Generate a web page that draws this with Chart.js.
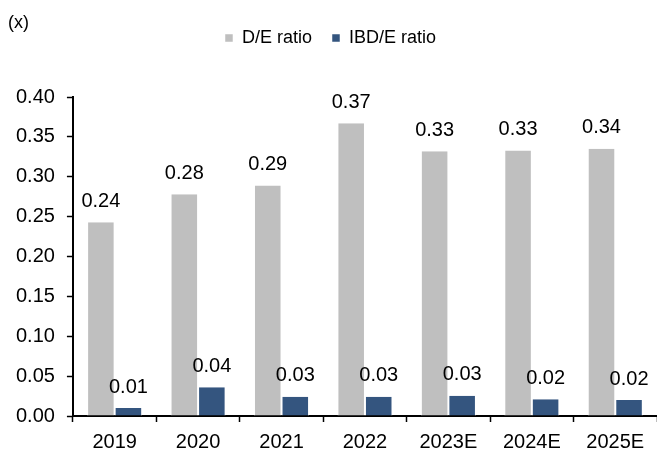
<!DOCTYPE html>
<html>
<head>
<meta charset="utf-8">
<script src="https://cdn.jsdelivr.net/npm/chart.js@4"></script>
<style>
	html, body { margin: 0; padding: 0; background: #fff; }
	#wrap { width: 657px; height: 452px; }
</style>
</head>
<body>
<div id="wrap"><canvas id="chart" width="657" height="452"></canvas></div>
<script>
const years = ['2019', '2020', '2021', '2022', '2023E', '2024E', '2025E'];
const deRatio = [0.243, 0.278, 0.289, 0.367, 0.332, 0.333, 0.335];
const ibdRatio = [0.010, 0.036, 0.024, 0.024, 0.0255, 0.021, 0.020];
const deLabels = ['0.24', '0.28', '0.29', '0.37', '0.33', '0.33', '0.34'];
const ibdLabels = ['0.01', '0.04', '0.03', '0.03', '0.03', '0.02', '0.02'];

const FONT = 'Arial, "Liberation Sans", sans-serif';

// draws the value above each bar
const barLabels = {
	id: 'barLabels',
	afterDatasetsDraw(chart) {
		const ctx = chart.ctx;
		const texts = [deLabels, ibdLabels];
		ctx.save();
		ctx.font = '20px ' + FONT;
		ctx.fillStyle = '#000';
		ctx.textAlign = 'center';
		ctx.textBaseline = 'bottom';
		chart.data.datasets.forEach((ds, i) => {
			chart.getDatasetMeta(i).data.forEach((bar, j) => {
				ctx.fillText(texts[i][j], bar.x, bar.y - 11);
			});
		});
		ctx.restore();
	}
};

const unitLabel = {
	id: 'unitLabel',
	afterDraw(chart) {
		const ctx = chart.ctx;
		ctx.save();
		ctx.font = '18px ' + FONT;
		ctx.fillStyle = '#000';
		ctx.textBaseline = 'middle';
		ctx.fillText('(x)', 8, 23);
		ctx.restore();
	}
};

// extra room between the legend and the plot
const legendGap = {
	id: 'legendGap',
	beforeInit(chart) {
		const fit = chart.legend.fit;
		chart.legend.fit = function () {
			fit.bind(chart.legend)();
			this.height += 40;
		};
	}
};

new Chart(document.getElementById('chart'), {
	type: 'bar',
	data: {
		labels: years,
		datasets: [
			{
				label: 'D/E ratio',
				data: deRatio,
				backgroundColor: '#BFBFBF',
				borderColor: '#ffffff',
				borderWidth: { left: 1, right: 1, top: 0, bottom: 0 },
				barPercentage: 1,
				categoryPercentage: 0.66,
			},
			{
				label: 'IBD/E ratio',
				data: ibdRatio,
				backgroundColor: '#34557F',
				borderColor: '#ffffff',
				borderWidth: { left: 1, right: 1, top: 0, bottom: 0 },
				barPercentage: 1,
				categoryPercentage: 0.66,
			},
		],
	},
	options: {
		responsive: false,
		animation: false,
		layout: {
			padding: { left: 4, right: 0, top: 9, bottom: -10 },
		},
		scales: {
			y: {
				min: 0,
				max: 0.4,
				ticks: {
					stepSize: 0.05,
					padding: 12,
					color: '#000',
					font: { family: FONT, size: 20 },
					callback: value => value.toFixed(2),
				},
				grid: {
					drawOnChartArea: false,
					tickLength: 6,
					tickWidth: 1.5,
					color: '#000',
				},
				border: { color: '#000', width: 2 },
			},
			x: {
				ticks: {
					padding: 8,
					color: '#000',
					font: { family: FONT, size: 20 },
				},
				grid: {
					drawOnChartArea: false,
					offset: true,
					tickLength: 6,
					tickWidth: 1.5,
					color: '#000',
				},
				border: { color: '#000', width: 2 },
			},
		},
		plugins: {
			legend: {
				position: 'top',
				labels: {
					boxWidth: 8,
					boxHeight: 8,
					padding: 20,
					color: '#000',
					font: { family: FONT, size: 18 },
				},
			},
			tooltip: { enabled: false },
		},
	},
	plugins: [barLabels, unitLabel, legendGap],
});
</script>
</body>
</html>
